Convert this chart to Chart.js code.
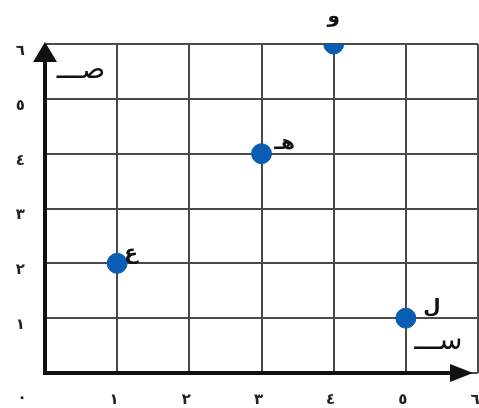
<!DOCTYPE html>
<html>
<head>
<meta charset="utf-8">
<script src="https://cdn.jsdelivr.net/npm/chart.js@4.4.0/dist/chart.umd.min.js"></script>
<style>
  html, body { margin: 0; padding: 0; background: #fff; }
  canvas { display: block; }
</style>
</head>
<body>
<canvas id="myChart" width="479" height="408"></canvas>
<script>
'use strict';

// values
let pointNames = ['ع', 'هـ', 'و', 'ل'];
let xValues = [1, 3, 4, 5];
let yValues = [2, 4, 6, 1];
let tickLabels = ['٠', '١', '٢', '٣', '٤', '٥', '٦'];
let xAxisName = 'ســـ';
let yAxisName = 'صـــ';

let points = [];
for (let i = 0; i < xValues.length; i++) {
  points.push({ x: xValues[i], y: yValues[i] });
}

// where each letter sits next to its point, in pixels
let nameOffsets = [[14, -10], [23, -10], [0, -27], [26, -10]];
let arabicFont = '"DejaVu Sans", sans-serif';

// thick axes with arrow heads, drawn from the scales
let axesPlugin = {
  id: 'axes',
  beforeDatasetsDraw(chart) {
    let ctx = chart.ctx;
    let x = chart.scales.x;
    let y = chart.scales.y;
    let x0 = x.getPixelForValue(0);
    let y0 = y.getPixelForValue(0);
    let yTop = y.getPixelForValue(6);
    let xEnd = x.getPixelForValue(6) - 5;
    ctx.save();
    ctx.strokeStyle = '#111';
    ctx.fillStyle = '#111';
    ctx.lineWidth = 4;
    ctx.beginPath();
    ctx.moveTo(x0, y0 + 2);
    ctx.lineTo(x0, yTop + 12);
    ctx.moveTo(x0 - 2, y0);
    ctx.lineTo(xEnd - 12, y0);
    ctx.stroke();
    // y arrow
    ctx.beginPath();
    ctx.moveTo(x0, yTop - 2);
    ctx.lineTo(x0 - 12, yTop + 18);
    ctx.lineTo(x0 + 12, yTop + 18);
    ctx.closePath();
    ctx.fill();
    // x arrow
    ctx.beginPath();
    ctx.moveTo(xEnd, y0);
    ctx.lineTo(xEnd - 23, y0 - 9);
    ctx.lineTo(xEnd - 23, y0 + 9);
    ctx.closePath();
    ctx.fill();

    // axis names and the origin zero
    ctx.font = '28px ' + arabicFont;
    ctx.textAlign = 'center';
    ctx.textBaseline = 'middle';
    ctx.fillText(yAxisName, x0 + 36, yTop + 27);
    ctx.fillText(xAxisName, x.getPixelForValue(5.45), y0 - 31);
    ctx.font = 'bold 15px ' + arabicFont;
    ctx.fillText(tickLabels[0], x0 - 23, y0 + 25);
    ctx.restore();
  }
};

let namesPlugin = {
  id: 'names',
  afterDatasetsDraw(chart) {
    let ctx = chart.ctx;
    let meta = chart.getDatasetMeta(0);
    ctx.save();
    ctx.font = 'bold 20px ' + arabicFont;
    ctx.fillStyle = '#111';
    ctx.textAlign = 'center';
    ctx.textBaseline = 'middle';
    for (let i = 0; i < meta.data.length; i++) {
      let pt = meta.data[i];
      ctx.fillText(pointNames[i], pt.x + nameOffsets[i][0], pt.y + nameOffsets[i][1]);
    }
    ctx.restore();
  }
};

let chartObject = {
  type: 'scatter',
  data: {
    datasets: [{
      data: points,
      backgroundColor: '#0b5cb3',
      borderColor: '#0b5cb3',
      pointRadius: 10,
      pointHoverRadius: 10
    }]
  },
  options: {
    responsive: false,
    animation: false,
    devicePixelRatio: 1,
    layout: {
      autoPadding: false,
      padding: { top: 44, right: 1, left: 0, bottom: 0 }
    },
    plugins: {
      legend: { display: false },
      tooltip: { enabled: false }
    },
    scales: {
      x: {
        type: 'linear',
        min: 0,
        max: 6,
        border: { display: false },
        grid: { color: '#4a4a4a', lineWidth: 2, drawTicks: false },
        ticks: {
          stepSize: 1,
          padding: 18,
          labelOffset: -3,
          color: '#222',
          font: { family: arabicFont, size: 15, weight: 'bold' },
          callback: (v) => v === 0 ? '' : tickLabels[v]
        },
        afterFit(scale) {
          scale.height = 35;
          scale.paddingLeft = 0;
          scale.paddingRight = 0;
        }
      },
      y: {
        type: 'linear',
        min: 0,
        max: 6,
        border: { display: false },
        grid: { color: '#4a4a4a', lineWidth: 2, drawTicks: false },
        ticks: {
          stepSize: 1,
          padding: 20,
          labelOffset: 7,
          color: '#222',
          font: { family: arabicFont, size: 15, weight: 'bold' },
          callback: (v) => v === 0 ? '' : tickLabels[v]
        },
        afterFit(scale) {
          scale.width = 45;
          scale.paddingTop = 0;
          scale.paddingBottom = 0;
        }
      }
    }
  },
  plugins: [axesPlugin, namesPlugin]
};

let ctx = document.getElementById('myChart').getContext('2d');
let myChart = new Chart(ctx, chartObject);
</script>
</body>
</html>
